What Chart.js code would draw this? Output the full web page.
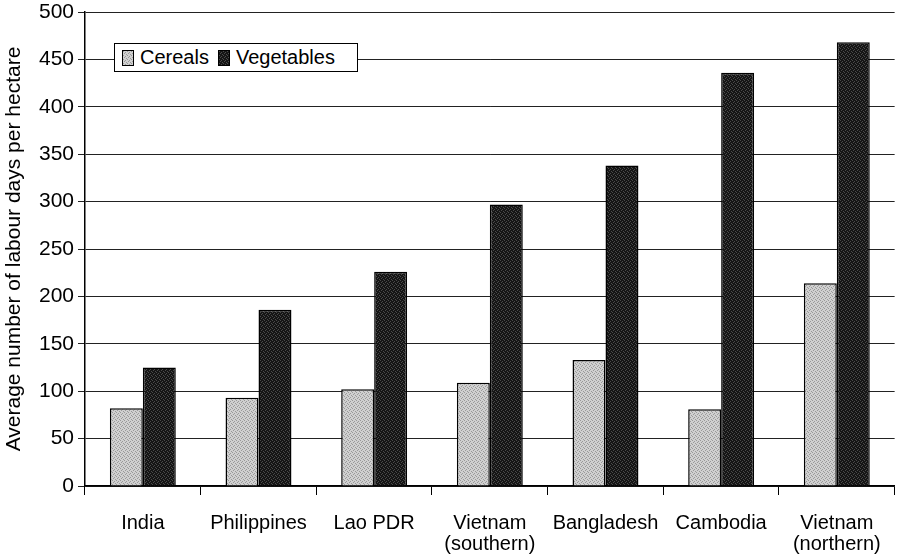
<!DOCTYPE html>
<html>
<head>
<meta charset="utf-8">
<script src="https://cdn.jsdelivr.net/npm/chart.js@4"></script>
<style>
  body { margin: 0; background: #fff; }
  #wrap { position: relative; width: 899px; height: 556px; }
  #legend {
    position: absolute; left: 114px; top: 43px; width: 244px; height: 29px;
    border: 1px solid #000; background: #fff; box-sizing: border-box;
    font: 20px "Liberation Sans", Arial, sans-serif; color: #000;
    display: flex; align-items: center; padding-left: 7px;
  }
  .sw { display: inline-block; width: 10px; height: 14px; border: 1.5px solid #000; margin-right: 6px; }
</style>
</head>
<body>
<div id="wrap">
  <canvas id="chart1" width="899" height="556"></canvas>
  <div id="legend">
    <span class="sw" id="sw1"></span><span style="margin-right:9px">Cereals</span>
    <span class="sw" id="sw2"></span><span>Vegetables</span>
  </div>
</div>
<script>
var categories = [["India"], ["Philippines"], ["Lao PDR"], ["Vietnam", "(southern)"], ["Bangladesh"], ["Cambodia"], ["Vietnam", "(northern)"]];
var cereals = [82, 93, 102, 109, 133, 81, 214];
var vegetables = [125, 186, 226, 297, 338, 436, 468];
var yTicks = [0, 50, 100, 150, 200, 250, 300, 350, 400, 450, 500];

// small dotted texture like the printed figure
function makePattern(base, dot) {
    var c = document.createElement('canvas');
    c.width = 4; c.height = 4;
    var g = c.getContext('2d');
    g.fillStyle = base;
    g.fillRect(0, 0, 4, 4);
    g.fillStyle = dot;
    g.fillRect(0, 0, 1, 1);
    g.fillRect(2, 1, 1, 1);
    g.fillRect(1, 2, 1, 1);
    g.fillRect(3, 3, 1, 1);
    return { canvas: c, pattern: document.getElementById('chart1').getContext('2d').createPattern(c, 'repeat') };
}
var lightPat = makePattern('#d0d0d0', '#999');
var darkPat = makePattern('#151515', '#4a4a4a');
document.getElementById('sw1').style.background = 'url(' + lightPat.canvas.toDataURL() + ')';
document.getElementById('sw2').style.background = 'url(' + darkPat.canvas.toDataURL() + ')';

var font = { family: '"Liberation Sans", Arial, sans-serif', size: 21 };

var chartCanvas1 = document.getElementById('chart1');
var configCanvas1 = {
    type: "bar",
    data: {
        labels: categories,
        datasets: [{
            label: "Cereals",
            data: cereals,
            backgroundColor: lightPat.pattern,
            borderColor: '#000',
            borderWidth: 1.5,
            barPercentage: 1,
            categoryPercentage: 0.57
        }, {
            label: "Vegetables",
            data: vegetables,
            backgroundColor: darkPat.pattern,
            borderColor: '#000',
            borderWidth: 1.5,
            barPercentage: 1,
            categoryPercentage: 0.57
        }]
    },
    options: {
        responsive: false,
        animation: false,
        layout: { padding: { top: 0, right: 4, left: 0, bottom: 0 } },
        plugins: { legend: { display: false }, tooltip: { enabled: false } },
        scales: {
            x: {
                grid: { drawOnChartArea: false, drawTicks: true, tickLength: 9, color: '#000', offset: true },
                border: { color: '#000', width: 1.5 },
                ticks: { color: '#000', font: { family: font.family, size: 20, lineHeight: 1.05 }, maxRotation: 0, padding: 18 },
                afterFit: function (s) { s.height = 70; }
            },
            y: {
                min: 0, max: 500,
                afterBuildTicks: function (s) { s.ticks = yTicks.map(function (v) { return { value: v }; }); },
                grid: { color: '#222', lineWidth: 1, tickLength: 7 },
                border: { color: '#000', width: 1.5 },
                ticks: { color: '#000', font: font, padding: 4 },
                title: { display: true, text: 'Average number of labour days per hectare', color: '#000', font: { family: font.family, size: 21 }, padding: 2 },
                afterFit: function (s) { s.width = 85; s.paddingTop = 12; }
            }
        }
    }
};

var myChart1 = new Chart(chartCanvas1, configCanvas1);
</script>
</body>
</html>
